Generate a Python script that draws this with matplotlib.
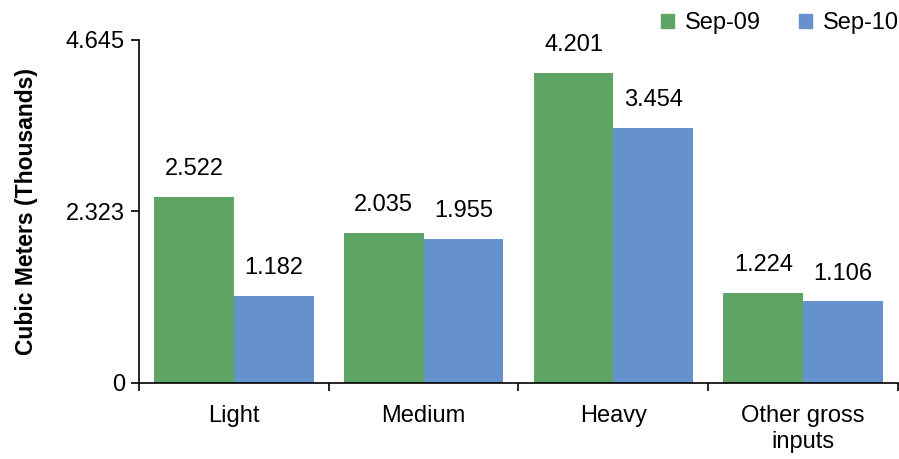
import numpy as np
import matplotlib.pyplot as plt
from matplotlib.patches import Patch

categories = ["Light", "Medium", "Heavy", "Other gross\ninputs"]
sep09 = [2.522, 2.035, 4.201, 1.224]
sep10 = [1.182, 1.955, 3.454, 1.106]
series_names = ["Sep-09", "Sep-10"]
yticks = [0, 2.323, 4.645]
ytick_labels = ["0", "2.323", "4.645"]

green = '#5ea465'
blue = '#6592cc'

plt.rcParams['font.family'] = ['Liberation Sans', 'DejaVu Sans']
plt.rcParams['font.size'] = 17

fig = plt.figure(figsize=(8.99, 4.59), dpi=100)
ax = fig.add_axes([0.1546, 0.1656, 0.8443, 0.7473])

x = np.arange(len(categories))
w = 0.42
b1 = ax.bar(x - w / 2, sep09, w, color=green, label=series_names[0])
b2 = ax.bar(x + w / 2, sep10, w, color=blue, label=series_names[1])

for bars, vals in ((b1, sep09), (b2, sep10)):
    for r, v in zip(bars, vals):
        ax.annotate('%.3f' % v, (r.get_x() + r.get_width() / 2, v),
                    xytext=(0, 12), textcoords='offset points',
                    ha='center', va='bottom', fontsize=17)

ax.set_xlim(-0.5, len(categories) - 0.5)
ax.set_ylim(0, 4.645)
ax.set_yticks(yticks)
ax.set_yticklabels(ytick_labels)
ax.set_ylabel('Cubic Meters (Thousands)', fontweight='bold', fontsize=16.5, labelpad=20)

# boundary ticks as major, category names as minor
ax.set_xticks(np.arange(len(categories) + 1) - 0.5)
ax.set_xticklabels([])
ax.set_xticks(x, minor=True)
ax.set_xticklabels(categories, minor=True)
ax.tick_params(axis='x', which='major', direction='out', length=6, width=1.2)
ax.tick_params(axis='x', which='minor', length=0, pad=16)
ax.tick_params(axis='y', direction='out', length=6, width=1.2, pad=4)

ax.spines['top'].set_visible(False)
ax.spines['right'].set_visible(False)
ax.spines['left'].set_linewidth(1.2)
ax.spines['bottom'].set_linewidth(1.2)

handles = [Patch(color=green), Patch(color=blue)]
fig.legend(handles, series_names, loc='upper right', bbox_to_anchor=(1.023, 1.02),
           ncol=2, frameon=False, handlelength=0.55, handleheight=0.55,
           handletextpad=0.45, columnspacing=1.6, fontsize=17)

fig.savefig('out.png', dpi=100)
plt.close()
